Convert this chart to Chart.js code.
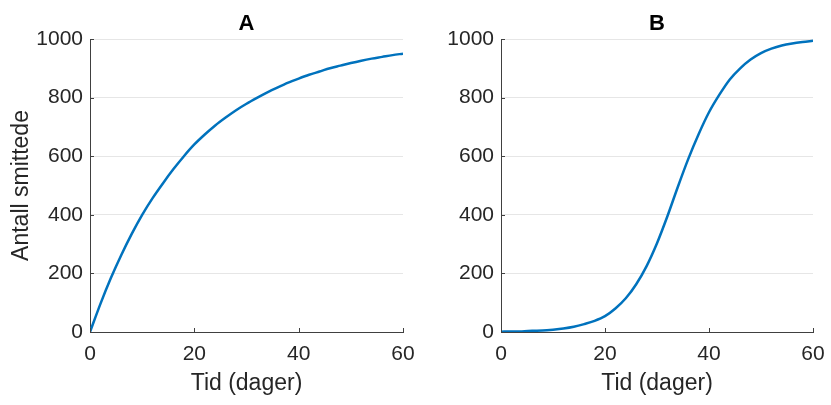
<!DOCTYPE html>
<html>
<head>
<meta charset="utf-8">
<script src="https://cdn.jsdelivr.net/npm/chart.js@4"></script>
<style>
  body { margin: 0; background: #fff; }
  .wrap { position: relative; width: 831px; height: 405px; }
  canvas { position: absolute; top: 0; }
  #chartA { left: 0; }
  #chartB { left: 420px; }
</style>
</head>
<body>
<div class="wrap">
  <canvas id="chartA" width="420" height="405"></canvas>
  <canvas id="chartB" width="411" height="405"></canvas>
</div>
<script>
'use strict';
// days (0..60, every 2nd day)
const days = [0, 2, 4, 6, 8, 10, 12, 14, 16, 18, 20, 22, 24, 26, 28, 30,
  32, 34, 36, 38, 40, 42, 44, 46, 48, 50, 52, 54, 56, 58, 60];

// panel A - saturating growth
const infectedA = [0, 96, 184, 263, 335, 400, 457, 508, 556, 600, 640, 674,
  705, 732, 757, 779, 799, 818, 835, 851, 865, 878, 889, 900, 909, 918, 926,
  933, 939, 945, 950];

// panel B - s-shaped growth
const infectedB = [1, 2, 2, 4, 5, 8, 12, 18, 27, 38, 54, 80, 115, 163, 225,
  303, 395, 495, 590, 675, 750, 810, 862, 900, 930, 952, 967, 978, 985, 990, 994];

const xTicks = [0, 20, 40, 60];
const yTicks = [0, 200, 400, 600, 800, 1000];
const titles = ['A', 'B'];
const xLabel = 'Tid (dager)';
const yLabel = 'Antall smittede';

const textColor = '#262626';
const axisColor = '#404040';
const lineColor = '#0072BD';
const fontFamily = "'Liberation Sans', Arial, sans-serif";

// small inward tick marks like matlab
const inwardTicks = {
  id: 'inwardTicks',
  afterDraw(chart) {
    const { ctx, scales: { x, y }, chartArea } = chart;
    ctx.save();
    ctx.strokeStyle = axisColor;
    ctx.lineWidth = 1;
    xTicks.forEach((v) => {
      const px = Math.round(x.getPixelForValue(v)) + 0.5;
      ctx.beginPath();
      ctx.moveTo(px, chartArea.bottom);
      ctx.lineTo(px, chartArea.bottom - 4);
      ctx.stroke();
    });
    yTicks.forEach((v) => {
      const py = Math.round(y.getPixelForValue(v)) + 0.5;
      ctx.beginPath();
      ctx.moveTo(chartArea.left, py);
      ctx.lineTo(chartArea.left + 4, py);
      ctx.stroke();
    });
    ctx.restore();
  }
};

function makeChart(id, values, title, yWidth, padRight, showYTitle) {
  return new Chart(document.getElementById(id), {
    type: 'line',
    data: {
      labels: days,
      datasets: [{
        data: values,
        borderColor: lineColor,
        borderWidth: 2.5,
        pointRadius: 0,
        cubicInterpolationMode: 'monotone',
        fill: false,
      }],
    },
    options: {
      responsive: false,
      animation: false,
      events: [],
      layout: { padding: { left: 0, right: padRight, top: 0, bottom: 0 } },
      plugins: {
        legend: { display: false },
        tooltip: { enabled: false },
        title: {
          display: true,
          fullSize: false,
          text: title,
          color: '#000',
          font: { family: fontFamily, size: 22, weight: 'bold' },
          padding: { top: 11, bottom: 1.6 },
        },
      },
      scales: {
        x: {
          type: 'linear',
          min: 0,
          max: 60,
          afterBuildTicks: (s) => { s.ticks = xTicks.map((v) => ({ value: v })); },
          afterFit: (s) => {
            s.height = 73;
            s.paddingLeft = 0;
            s.paddingRight = 0;
          },
          grid: { display: false, drawTicks: false },
          border: { color: axisColor, width: 1 },
          ticks: { color: textColor, padding: 10, font: { family: fontFamily, size: 21 } },
          title: {
            display: true,
            text: xLabel,
            color: textColor,
            font: { family: fontFamily, size: 23 },
            padding: { top: 0, bottom: 8 },
          },
        },
        y: {
          min: 0,
          max: 1000,
          afterBuildTicks: (s) => { s.ticks = yTicks.map((v) => ({ value: v })); },
          afterFit: (s) => {
            s.width = yWidth;
            s.paddingTop = 0;
            s.paddingBottom = 0;
          },
          grid: { color: '#e6e6e6', drawTicks: false },
          border: { color: axisColor, width: 1 },
          ticks: {
            color: textColor,
            padding: 7,
            font: { family: fontFamily, size: 21 },
            callback: (v) => String(v),
          },
          title: {
            display: showYTitle,
            text: yLabel,
            color: textColor,
            font: { family: fontFamily, size: 23 },
            padding: { top: 8, bottom: 0 },
          },
        },
      },
    },
    plugins: [inwardTicks],
  });
}

makeChart('chartA', infectedA, titles[0], 90, 17, true);
makeChart('chartB', infectedB, titles[1], 81, 18, false);
</script>
</body>
</html>
